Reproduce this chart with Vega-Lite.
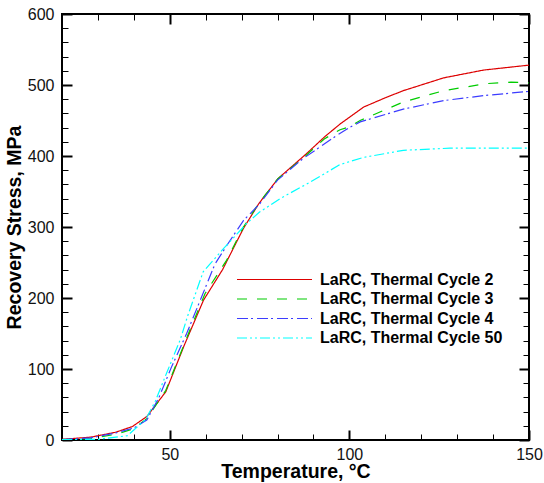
{
  "$schema": "https://vega.github.io/schema/vega-lite/v6.json",
  "width": 467,
  "height": 426,
  "autosize": {"type": "none"},
  "padding": {"left": 62, "top": 14, "right": 15, "bottom": 43},
  "config": {
    "view": {"stroke": "black", "strokeWidth": 2},
    "font": "Liberation Sans",
    "axis": {"grid": false, "domain": false, "labelFont": "Liberation Sans", "labelFontSize": 16, "labelColor": "#111", "titleFont": "Liberation Sans", "titleFontSize": 19.5, "titleFontWeight": "bold", "titleColor": "black"}
  },
  "data": {"values": [
    {"s": "LaRC, Thermal Cycle 2", "T": 20, "S": 1},
    {"s": "LaRC, Thermal Cycle 2", "T": 28, "S": 4},
    {"s": "LaRC, Thermal Cycle 2", "T": 35, "S": 11},
    {"s": "LaRC, Thermal Cycle 2", "T": 39.6, "S": 19},
    {"s": "LaRC, Thermal Cycle 2", "T": 43.6, "S": 33},
    {"s": "LaRC, Thermal Cycle 2", "T": 48.9, "S": 68},
    {"s": "LaRC, Thermal Cycle 2", "T": 54, "S": 133},
    {"s": "LaRC, Thermal Cycle 2", "T": 59.4, "S": 197},
    {"s": "LaRC, Thermal Cycle 2", "T": 64.7, "S": 240},
    {"s": "LaRC, Thermal Cycle 2", "T": 70.5, "S": 298},
    {"s": "LaRC, Thermal Cycle 2", "T": 74.8, "S": 333},
    {"s": "LaRC, Thermal Cycle 2", "T": 80.1, "S": 368},
    {"s": "LaRC, Thermal Cycle 2", "T": 88, "S": 403},
    {"s": "LaRC, Thermal Cycle 2", "T": 93.1, "S": 427},
    {"s": "LaRC, Thermal Cycle 2", "T": 97.4, "S": 445},
    {"s": "LaRC, Thermal Cycle 2", "T": 104, "S": 469},
    {"s": "LaRC, Thermal Cycle 2", "T": 110, "S": 482},
    {"s": "LaRC, Thermal Cycle 2", "T": 115, "S": 492},
    {"s": "LaRC, Thermal Cycle 2", "T": 126.2, "S": 510},
    {"s": "LaRC, Thermal Cycle 2", "T": 137.3, "S": 521},
    {"s": "LaRC, Thermal Cycle 2", "T": 150, "S": 528},
    {"s": "LaRC, Thermal Cycle 3", "T": 20, "S": 0.5},
    {"s": "LaRC, Thermal Cycle 3", "T": 28, "S": 2},
    {"s": "LaRC, Thermal Cycle 3", "T": 35, "S": 8},
    {"s": "LaRC, Thermal Cycle 3", "T": 40, "S": 16},
    {"s": "LaRC, Thermal Cycle 3", "T": 43.6, "S": 30},
    {"s": "LaRC, Thermal Cycle 3", "T": 48.9, "S": 70},
    {"s": "LaRC, Thermal Cycle 3", "T": 55.6, "S": 155},
    {"s": "LaRC, Thermal Cycle 3", "T": 59.8, "S": 206},
    {"s": "LaRC, Thermal Cycle 3", "T": 65.8, "S": 253},
    {"s": "LaRC, Thermal Cycle 3", "T": 70.5, "S": 300},
    {"s": "LaRC, Thermal Cycle 3", "T": 75, "S": 335},
    {"s": "LaRC, Thermal Cycle 3", "T": 80.1, "S": 368},
    {"s": "LaRC, Thermal Cycle 3", "T": 88, "S": 401},
    {"s": "LaRC, Thermal Cycle 3", "T": 93, "S": 424},
    {"s": "LaRC, Thermal Cycle 3", "T": 97.4, "S": 437},
    {"s": "LaRC, Thermal Cycle 3", "T": 100, "S": 441},
    {"s": "LaRC, Thermal Cycle 3", "T": 103, "S": 450},
    {"s": "LaRC, Thermal Cycle 3", "T": 115, "S": 476},
    {"s": "LaRC, Thermal Cycle 3", "T": 126.2, "S": 492},
    {"s": "LaRC, Thermal Cycle 3", "T": 138.2, "S": 502},
    {"s": "LaRC, Thermal Cycle 3", "T": 145, "S": 504},
    {"s": "LaRC, Thermal Cycle 3", "T": 150, "S": 503},
    {"s": "LaRC, Thermal Cycle 4", "T": 20, "S": 0.5},
    {"s": "LaRC, Thermal Cycle 4", "T": 28, "S": 3},
    {"s": "LaRC, Thermal Cycle 4", "T": 35, "S": 10},
    {"s": "LaRC, Thermal Cycle 4", "T": 40, "S": 17},
    {"s": "LaRC, Thermal Cycle 4", "T": 43.6, "S": 28},
    {"s": "LaRC, Thermal Cycle 4", "T": 47, "S": 60},
    {"s": "LaRC, Thermal Cycle 4", "T": 50.5, "S": 103},
    {"s": "LaRC, Thermal Cycle 4", "T": 54.7, "S": 150},
    {"s": "LaRC, Thermal Cycle 4", "T": 58.5, "S": 197},
    {"s": "LaRC, Thermal Cycle 4", "T": 62.6, "S": 248},
    {"s": "LaRC, Thermal Cycle 4", "T": 66, "S": 275},
    {"s": "LaRC, Thermal Cycle 4", "T": 70.5, "S": 309},
    {"s": "LaRC, Thermal Cycle 4", "T": 75.1, "S": 333},
    {"s": "LaRC, Thermal Cycle 4", "T": 80, "S": 366},
    {"s": "LaRC, Thermal Cycle 4", "T": 87, "S": 396},
    {"s": "LaRC, Thermal Cycle 4", "T": 96.5, "S": 429},
    {"s": "LaRC, Thermal Cycle 4", "T": 100, "S": 440},
    {"s": "LaRC, Thermal Cycle 4", "T": 103, "S": 448},
    {"s": "LaRC, Thermal Cycle 4", "T": 115, "S": 466},
    {"s": "LaRC, Thermal Cycle 4", "T": 126.2, "S": 478},
    {"s": "LaRC, Thermal Cycle 4", "T": 137.3, "S": 485},
    {"s": "LaRC, Thermal Cycle 4", "T": 150, "S": 491},
    {"s": "LaRC, Thermal Cycle 50", "T": 20, "S": 0.5},
    {"s": "LaRC, Thermal Cycle 50", "T": 30, "S": 1},
    {"s": "LaRC, Thermal Cycle 50", "T": 38.2, "S": 6},
    {"s": "LaRC, Thermal Cycle 50", "T": 43.3, "S": 29},
    {"s": "LaRC, Thermal Cycle 50", "T": 46, "S": 55},
    {"s": "LaRC, Thermal Cycle 50", "T": 49.1, "S": 94},
    {"s": "LaRC, Thermal Cycle 50", "T": 52.9, "S": 141},
    {"s": "LaRC, Thermal Cycle 50", "T": 55, "S": 175},
    {"s": "LaRC, Thermal Cycle 50", "T": 59.3, "S": 237},
    {"s": "LaRC, Thermal Cycle 50", "T": 64.5, "S": 267},
    {"s": "LaRC, Thermal Cycle 50", "T": 71.4, "S": 305},
    {"s": "LaRC, Thermal Cycle 50", "T": 75, "S": 321},
    {"s": "LaRC, Thermal Cycle 50", "T": 80.7, "S": 340},
    {"s": "LaRC, Thermal Cycle 50", "T": 89, "S": 363},
    {"s": "LaRC, Thermal Cycle 50", "T": 97.4, "S": 388},
    {"s": "LaRC, Thermal Cycle 50", "T": 103.9, "S": 398},
    {"s": "LaRC, Thermal Cycle 50", "T": 115, "S": 408},
    {"s": "LaRC, Thermal Cycle 50", "T": 128, "S": 411},
    {"s": "LaRC, Thermal Cycle 50", "T": 150, "S": 411}
  ]},
  "layer": [
    {
      "mark": {"type": "line", "strokeWidth": 1.2, "clip": true},
      "encoding": {
        "x": {"field": "T", "type": "quantitative", "scale": {"domain": [20, 150], "nice": false, "zero": false},
              "axis": {"orient": "bottom", "values": [50, 100, 150], "labelOverlap": false, "labelFlush": false, "offset": -10, "tickColor": "black", "tickSize": 10, "tickWidth": 2, "labelPadding": 6, "title": "Temperature, °C", "titlePadding": 0}},
        "y": {"field": "S", "type": "quantitative", "scale": {"domain": [0, 600], "nice": false},
              "axis": {"orient": "left", "values": [0, 100, 200, 300, 400, 500, 600], "labelOverlap": false, "labelFlush": false, "offset": -10, "tickColor": "black", "tickSize": 10, "tickWidth": 2, "labelPadding": 8, "title": "Recovery Stress, MPa", "titlePadding": 3}},
        "color": {"field": "s", "type": "nominal",
                  "scale": {"domain": ["LaRC, Thermal Cycle 2", "LaRC, Thermal Cycle 3", "LaRC, Thermal Cycle 4", "LaRC, Thermal Cycle 50"], "range": ["#dd0000", "#00cc00", "#3c3cff", "#00ffff"]},
                  "legend": {"orient": "none", "legendX": 204, "legendY": 257, "title": null, "symbolType": "M-5,0H5", "symbolSize": 225, "symbolStrokeWidth": 1.2, "labelFontSize": 16, "labelFontWeight": "bold", "labelColor": "black", "labelFont": "Liberation Sans", "labelOffset": 37, "padding": 0, "rowPadding": 2.5, "labelLimit": 300}},
        "strokeDash": {"field": "s", "type": "nominal",
                  "scale": {"domain": ["LaRC, Thermal Cycle 2", "LaRC, Thermal Cycle 3", "LaRC, Thermal Cycle 4", "LaRC, Thermal Cycle 50"], "range": [[1, 0], [10, 10], [11, 3, 2, 4], [10, 3, 2, 3, 2, 3]]},
                  "legend": {"orient": "none", "legendX": 204, "legendY": 257, "title": null, "symbolType": "M-5,0H5", "symbolSize": 225, "symbolStrokeWidth": 1.2, "labelFontSize": 16, "labelFontWeight": "bold", "labelColor": "black", "labelFont": "Liberation Sans", "labelOffset": 37, "padding": 0, "rowPadding": 2.5, "labelLimit": 300}}
      }
    },
    {
      "mark": {"type": "point", "opacity": 0},
      "encoding": {
        "x": {"field": "T", "type": "quantitative", "axis": {"orient": "bottom", "values": [30, 40, 60, 70, 80, 90, 110, 120, 130, 140], "offset": -6, "tickColor": "black", "tickSize": 6, "tickWidth": 1, "labels": false, "title": null}},
        "y": {"field": "S", "type": "quantitative", "axis": {"orient": "left", "values": [20, 40, 60, 80, 120, 140, 160, 180, 220, 240, 260, 280, 320, 340, 360, 380, 420, 440, 460, 480, 520, 540, 560, 580], "offset": -6, "tickColor": "black", "tickSize": 6, "tickWidth": 1, "labels": false, "title": null}}
      }
    },
    {
      "mark": {"type": "point", "opacity": 0},
      "encoding": {
        "x": {"field": "T", "type": "quantitative", "axis": {"orient": "top", "values": [50, 100, 150], "offset": -10, "tickColor": "black", "tickSize": 10, "tickWidth": 2, "labels": false, "title": null}},
        "y": {"field": "S", "type": "quantitative", "axis": {"orient": "right", "values": [0, 100, 200, 300, 400, 500, 600], "offset": -10, "tickColor": "black", "tickSize": 10, "tickWidth": 2, "labels": false, "title": null}}
      }
    },
    {
      "mark": {"type": "point", "opacity": 0},
      "encoding": {
        "x": {"field": "T", "type": "quantitative", "axis": {"orient": "top", "values": [30, 40, 60, 70, 80, 90, 110, 120, 130, 140], "offset": -6, "tickColor": "black", "tickSize": 6, "tickWidth": 1, "labels": false, "title": null}},
        "y": {"field": "S", "type": "quantitative", "axis": {"orient": "right", "values": [20, 40, 60, 80, 120, 140, 160, 180, 220, 240, 260, 280, 320, 340, 360, 380, 420, 440, 460, 480, 520, 540, 560, 580], "offset": -6, "tickColor": "black", "tickSize": 6, "tickWidth": 1, "labels": false, "title": null}}
      }
    }
  ],
  "resolve": {"axis": {"x": "independent", "y": "independent"}}
}
